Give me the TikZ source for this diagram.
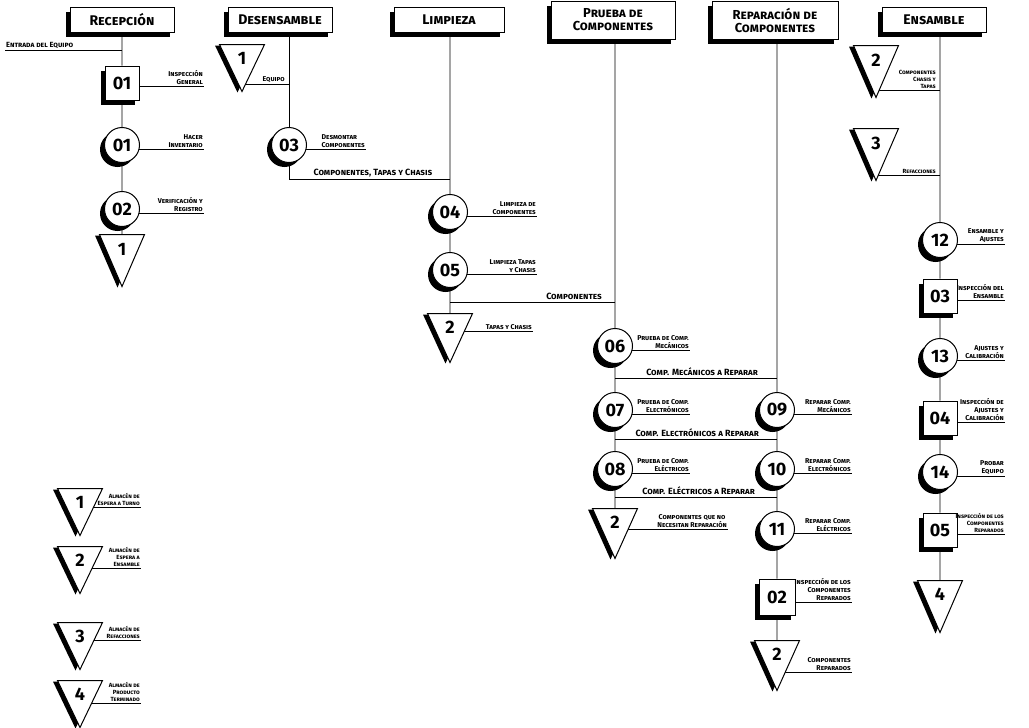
\documentclass[tikz,border=0pt]{standalone}
\usepackage{fontspec}
\setmainfont{Fira Sans}
\usetikzlibrary{shapes.geometric,shadows,backgrounds}

\begin{document}
\begin{tikzpicture}[
    x=1pt,y=-1pt,
    conn/.style={line width=0.8pt},
    shade/.style={general shadow={fill=black,shadow xshift=-4.5pt,shadow yshift=-4.5pt}},
    hdr/.style={draw,line width=1pt,fill=white,shade,align=center,inner sep=2pt,
      minimum height=25,font=\fontsize{14}{14}\selectfont\bfseries\scshape},
    hdrtwo/.style={hdr,minimum height=38,font=\fontsize{13}{13}\selectfont\bfseries\scshape},
    opbox/.style={draw,line width=1pt,fill=white,shade,minimum size=34,inner sep=0pt,
      font=\fontsize{18}{18}\selectfont\bfseries},
    opcirc/.style={opbox,circle,minimum size=35},
    store/.style={isosceles triangle,shape border rotate=-90,isosceles triangle stretches,
      minimum width=45,minimum height=52,inner sep=0pt,draw,line width=1pt,fill=white,
      general shadow={fill=black,shadow xshift=-4.5pt,shadow yshift=-1pt},
      font=\fontsize{18}{18}\selectfont\bfseries},
    lbl/.style={inner sep=1pt,align=right,font=\fontsize{7}{8}\selectfont\bfseries\scshape},
    flow/.style={lbl,font=\fontsize{9}{9}\selectfont\bfseries\scshape},
    lbs/.style={lbl,font=\fontsize{6}{7}\selectfont\bfseries\scshape}
  ]
    \useasboundingbox (0,0) rectangle (1029,728);

    % Recepcion
    \node[hdr,minimum width=104] (recep) at (122,20) {Recepción};
    \node[opbox] (s01) at (122,83) {01};
    \node[opcirc] (o01) at (122,145) {01};
    \node[opcirc] (o02) at (122,209) {02};
    \node[store,anchor=north] (t1a) at (122,234) {1};
    \node[flow,anchor=south west,font=\fontsize{7.5}{8}\selectfont\bfseries\scshape] (lentr) at (5,50) {Entrada del Equipo};
    \node[lbl,anchor=south east] (ls01) at (204,86) {Inspección\\General};
    \node[lbl,anchor=south east] (lo01) at (204,149) {Hacer\\Inventario};
    \node[lbl,anchor=south east] (lo02) at (204,213) {Verificación y\\Registro};
    \begin{scope}[on background layer]
      \draw[conn] (recep) -- (s01) -- (o01) -- (o02) -- (t1a);
      \draw[conn] (lentr.south west) -- (lentr.south west -| recep);
      \draw[conn] (s01.center |- ls01.south east) -- (ls01.south east);
      \draw[conn] (o01.center |- lo01.south east) -- (lo01.south east);
      \draw[conn] (o02.center |- lo02.south east) -- (lo02.south east);
    \end{scope}

    % Desensamble
    \node[hdr,minimum width=104] (desen) at (280,20) {Desensamble};
    \node[store,anchor=north,minimum height=47] (t1b) at (242,44) {1};
    \node[lbl,anchor=south east] (leq) at (286,84) {Equipo};
    \node[opcirc] (o03) at (289,145) {03};
    \node[lbl,anchor=south east,align=left] (lo03) at (366,149) {Desmontar\\Componentes};
    \coordinate (k03) at (289,179);
    \node[flow,anchor=south] (lk03) at (373,178) {Componentes, Tapas y Chasis};

    % Limpieza
    \node[hdr,minimum width=110] (limp) at (449,20) {Limpieza};
    \node[opcirc] (o04) at (450,212) {04};
    \node[opcirc] (o05) at (450,270) {05};
    \node[store,anchor=north,minimum height=49] (t2a) at (450,313) {2};
    \node[lbl,anchor=south east] (lo04) at (537,216) {Limpieza de\\Componentes};
    \node[lbl,anchor=south east] (lo05) at (537,274) {Limpieza Tapas\\y Chasis};
    \node[lbl,anchor=south east] (lt2a) at (533,331) {Tapas y Chasis};
    \coordinate (k05) at (450,302);
    \node[flow,anchor=south east] (lk05) at (603,301) {Componentes};

    % Prueba de componentes
    \node[hdrtwo,minimum width=124] (prueba) at (613,20) {Prueba de\\Componentes};
    \node[opcirc] (o06) at (615,346) {06};
    \node[opcirc] (o07) at (615,410) {07};
    \node[opcirc] (o08) at (615,469) {08};
    \node[store,anchor=north,minimum height=50] (t2b) at (615,508) {2};
    \node[lbl,anchor=south east] (lo06) at (690,350) {Prueba de Comp.\\Mecánicos};
    \node[lbl,anchor=south east] (lo07) at (690,414) {Prueba de Comp.\\Electrónicos};
    \node[lbl,anchor=south east] (lo08) at (690,473) {Prueba de Comp.\\Eléctricos};
    \node[lbl,anchor=south east,align=center] (lt2b) at (728,529) {Componentes que no\\Necesitan Reparación};
    \coordinate (k06) at (615,378);
    \coordinate (k07) at (615,439);
    \coordinate (k08) at (615,497);
    \node[flow,anchor=south east] (lk06) at (759,377) {Comp. Mecánicos a Reparar};
    \node[flow,anchor=south east] (lk07) at (760,438) {Comp. Electrónicos a Reparar};
    \node[flow,anchor=south east] (lk08) at (756,496) {Comp. Eléctricos a Reparar};

    % Reparacion de componentes
    \node[hdrtwo,minimum width=126] (repar) at (775,20) {Reparación de\\Componentes};
    \node[opcirc] (o09) at (777,410) {09};
    \node[opcirc] (o10) at (777,469) {10};
    \node[opcirc] (o11) at (777,529) {11};
    \node[opbox,minimum size=36] (s02) at (777,597) {02};
    \node[store,anchor=north,minimum height=50] (t2c) at (777,640) {2};
    \node[lbl,anchor=south east] (lo09) at (852,414) {Reparar Comp.\\Mecánicos};
    \node[lbl,anchor=south east] (lo10) at (852,473) {Reparar Comp.\\Electrónicos};
    \node[lbl,anchor=south east] (lo11) at (852,533) {Reparar Comp.\\Eléctricos};
    \node[lbl,anchor=south east] (ls02) at (852,602) {Inspección de los\\Componentes\\Reparados};
    \node[lbl,anchor=south east] (lt2c) at (852,672) {Componentes\\Reparados};

    % Ensamble
    \node[hdr,minimum width=104] (ensam) at (934,20) {Ensamble};
    \node[store,anchor=north] (t2d) at (876,45) {2};
    \node[lbs,anchor=south east] (lt2d) at (937,90) {Componentes\\Chasis y\\Tapas};
    \node[store,anchor=north] (t3) at (876,128) {3};
    \node[lbs,anchor=south east] (lt3) at (937,175) {Refacciones};
    \node[opcirc] (o12) at (940,240) {12};
    \node[opbox] (s03) at (940,296) {03};
    \node[opcirc] (o13) at (940,356) {13};
    \node[opbox] (s04) at (940,418) {04};
    \node[opcirc] (o14) at (940,472) {14};
    \node[opbox] (s05) at (940,530) {05};
    \node[store,anchor=north] (t4) at (940,580) {4};
    \node[lbl,anchor=south east] (lo12) at (1005,244) {Ensamble y\\Ajustes};
    \node[lbl,anchor=south east] (ls03) at (1005,300) {Inspección del\\Ensamble};
    \node[lbl,anchor=south east] (lo13) at (1005,360) {Ajustes y\\Calibración};
    \node[lbl,anchor=south east] (ls04) at (1005,422) {Inspección de\\Ajustes y\\Calibración};
    \node[lbl,anchor=south east] (lo14) at (1005,476) {Probar\\Equipo};
    \node[lbs,anchor=south east] (ls05) at (1005,534) {Inspección de los\\Componentes\\Reparados};

    % Simbologia de almacenes
    \node[store,anchor=north,minimum height=47] (k1) at (80,488) {1};
    \node[store,anchor=north,minimum height=47] (k2) at (80,546) {2};
    \node[store,anchor=north,minimum height=47] (k3) at (80,622) {3};
    \node[store,anchor=north,minimum height=47] (k4) at (80,680) {4};
    \node[lbs,anchor=south east] (lk1) at (141,507) {Almacén de\\Espera a Turno};
    \node[lbs,anchor=south east] (lk2) at (141,568) {Almacén de\\Espera a\\Ensamble};
    \node[lbs,anchor=south east] (lk3) at (141,640) {Almacén de\\Refacciones};
    \node[lbs,anchor=south east] (lk4) at (141,703) {Almacén de\\Producto\\Terminado};

    % Lineas de flujo
    \begin{scope}[on background layer]
      \draw[conn] (desen.south -| o03) -- (o03) -- (k03) -- (k03 -| o04);
      \draw[conn] (t1b.center |- leq.south east) -- (leq.south east -| o03);
      \draw[conn] (o03.center |- lo03.south east) -- (lo03.south east);
      \draw[conn] (limp.south -| o04) -- (o04) -- (o05) -- (t2a);
      \draw[conn] (o04.center |- lo04.south east) -- (lo04.south east);
      \draw[conn] (o05.center |- lo05.south east) -- (lo05.south east);
      \draw[conn] (t2a.center |- lt2a.south east) -- (lt2a.south east);
      \draw[conn] (k05) -- (k05 -| o06);
      \draw[conn] (prueba.south -| o06) -- (o06) -- (o07) -- (o08) -- (t2b);
      \draw[conn] (o06.center |- lo06.south east) -- (lo06.south east);
      \draw[conn] (o07.center |- lo07.south east) -- (lo07.south east);
      \draw[conn] (o08.center |- lo08.south east) -- (lo08.south east);
      \draw[conn] (t2b.center |- lt2b.south east) -- (lt2b.south east);
      \draw[conn] (k06) -- (k06 -| o09);
      \draw[conn] (k07) -- (k07 -| o09);
      \draw[conn] (k08) -- (k08 -| o09);
      \draw[conn] (repar.south -| o09) -- (o09) -- (o10) -- (o11) -- (s02) -- (t2c);
      \draw[conn] (o09.center |- lo09.south east) -- (lo09.south east);
      \draw[conn] (o10.center |- lo10.south east) -- (lo10.south east);
      \draw[conn] (o11.center |- lo11.south east) -- (lo11.south east);
      \draw[conn] (s02.center |- ls02.south east) -- (ls02.south east);
      \draw[conn] (t2c.center |- lt2c.south east) -- (lt2c.south east);
      \draw[conn] (ensam.south -| o12) -- (o12) -- (s03) -- (o13) -- (s04) -- (o14) -- (s05) -- (t4);
      \draw[conn] (t2d.center |- lt2d.south east) -- (lt2d.south east -| o12);
      \draw[conn] (t3.center |- lt3.south east) -- (lt3.south east -| o12);
      \draw[conn] (o12.center |- lo12.south east) -- (lo12.south east);
      \draw[conn] (s03.center |- ls03.south east) -- (ls03.south east);
      \draw[conn] (o13.center |- lo13.south east) -- (lo13.south east);
      \draw[conn] (s04.center |- ls04.south east) -- (ls04.south east);
      \draw[conn] (o14.center |- lo14.south east) -- (lo14.south east);
      \draw[conn] (s05.center |- ls05.south east) -- (ls05.south east);
      \draw[conn] (k1.center |- lk1.south east) -- (lk1.south east);
      \draw[conn] (k2.center |- lk2.south east) -- (lk2.south east);
      \draw[conn] (k3.center |- lk3.south east) -- (lk3.south east);
      \draw[conn] (k4.center |- lk4.south east) -- (lk4.south east);
    \end{scope}
  \end{tikzpicture}
\end{document}
